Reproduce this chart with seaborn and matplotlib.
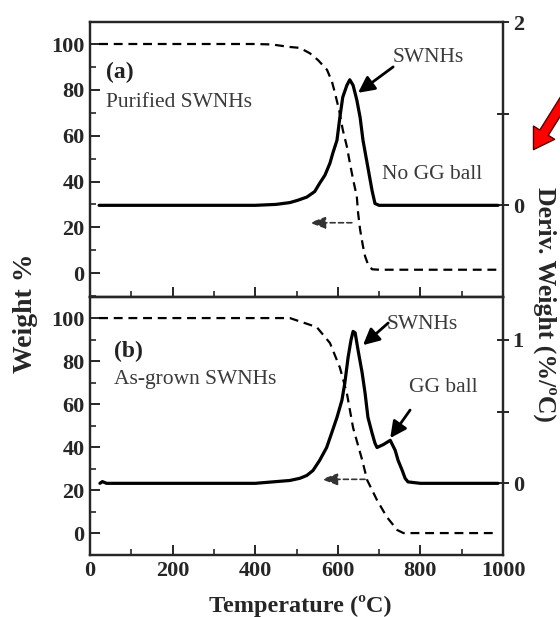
import numpy as np
import pandas as pd
import matplotlib
matplotlib.use("Agg")
import matplotlib.pyplot as plt
from matplotlib.patches import FancyArrowPatch
from matplotlib.ticker import MultipleLocator
import seaborn as sns

# ---------------- data ----------------
# (a) Purified SWNHs
temp_a_w = [22, 200, 400, 440, 484, 508, 532, 552, 574, 586, 593, 603, 612, 622, 629, 637, 646,
            649, 654, 661, 666, 673, 683, 700, 800, 900, 985]
weight_a = [100, 100, 100, 99.8, 98.7, 98.3, 96, 93, 88.7, 83.5, 78.7, 71.3, 62.6, 55.2, 48.3, 40.9, 33.5,
            26.5, 19, 11.7, 7.4, 3.9, 1.7, 1.5, 1.5, 1.5, 1.5]
temp_a_d = [22, 200, 400, 450, 484, 503, 525, 544, 556, 569, 581, 588, 598, 605, 612, 622, 629, 637,
            646, 654, 661, 671, 683, 690, 700, 800, 900, 988]
deriv_a = [0.0, 0.0, 0.0, 0.01, 0.03, 0.055, 0.09, 0.15, 0.24, 0.33, 0.46, 0.57, 0.71, 0.96, 1.18, 1.31, 1.37, 1.31,
           1.15, 0.96, 0.71, 0.46, 0.16, 0.02, 0.0, 0.0, 0.0, 0.0]

# (b) As-grown SWNHs
temp_b_w = [22, 200, 400, 450, 484, 549, 581, 605, 622, 637, 659, 671, 695, 719, 744, 759, 800, 900, 985]
weight_b = [100, 100, 100, 100, 100, 95.8, 88.4, 77, 65, 49, 34, 24.7, 15.3, 7.4, 1.4, 0, 0, 0, 0]
temp_b_d = [24, 30, 40, 200, 400, 484, 508, 525, 540, 556, 573, 585, 598, 610, 617, 625, 632, 637, 642,
            649, 659, 666, 673, 683, 690, 695, 710, 727, 739, 746, 756, 763, 770, 800, 900, 988]
deriv_b = [0.0, 0.012, 0.0, 0.0, 0.0, 0.02, 0.035, 0.055, 0.09, 0.16, 0.25, 0.35, 0.46, 0.58, 0.70, 0.88, 1.0, 1.06, 1.05,
           0.93, 0.77, 0.63, 0.46, 0.35, 0.28, 0.25, 0.27, 0.30, 0.23, 0.16, 0.09, 0.035, 0.01, 0.0, 0.0, 0.0]

x_ticks = [0, 200, 400, 600, 800, 1000]
w_ticks = [0, 20, 40, 60, 80, 100]

df_aw = pd.DataFrame({"T": temp_a_w, "W": weight_a})
df_ad = pd.DataFrame({"T": temp_a_d, "D": deriv_a})
df_bw = pd.DataFrame({"T": temp_b_w, "W": weight_b})
df_bd = pd.DataFrame({"T": temp_b_d, "D": deriv_b})

# ---------------- style ----------------
sns.set_style("ticks")
plt.rcParams["font.family"] = ["Liberation Serif", "DejaVu Serif"]
plt.rcParams["axes.linewidth"] = 1.6
plt.rcParams["xtick.direction"] = "in"
plt.rcParams["ytick.direction"] = "in"
plt.rcParams["lines.solid_joinstyle"] = "round"
plt.rcParams["lines.solid_capstyle"] = "round"

W_PX, H_PX = 560, 617
fig = plt.figure(figsize=(W_PX / 100, H_PX / 100), dpi=100)
fig.patch.set_facecolor("white")

left, right = 90 / W_PX, 503 / W_PX
top_a, mid, bot_b = 22, 297, 555
ax_a = fig.add_axes([left, 1 - mid / H_PX, right - left, (mid - top_a) / H_PX])
ax_b = fig.add_axes([left, 1 - bot_b / H_PX, right - left, (bot_b - mid) / H_PX])
ax_a2 = ax_a.twinx()
ax_b2 = ax_b.twinx()

LW_SOLID = 2.3
LW_DASH = 1.6
DASH = (4, 2.6)
FS = 16
TXT_C = "#3a3a3a"

# curves
sns.lineplot(data=df_aw, x="T", y="W", ax=ax_a, color="black", lw=LW_DASH,
             estimator=None, sort=False).lines[0].set_dashes(DASH)
sns.lineplot(data=df_ad, x="T", y="D", ax=ax_a2, color="black", lw=LW_SOLID,
             estimator=None, sort=False)
sns.lineplot(data=df_bw, x="T", y="W", ax=ax_b, color="black", lw=LW_DASH,
             estimator=None, sort=False).lines[0].set_dashes(DASH)
sns.lineplot(data=df_bd, x="T", y="D", ax=ax_b2, color="black", lw=LW_SOLID,
             estimator=None, sort=False)

# limits
ax_a.set_xlim(0, 1000)
ax_b.set_xlim(0, 1000)
ax_a.set_ylim(-10.4, 109.6)
ax_b.set_ylim(-10.2, 109.8)
ax_a2.set_ylim(-1.0, 2.0)
ax_b2.set_ylim(-0.5, 1.3)

for ax in (ax_a, ax_b):
    ax.set_xticks(x_ticks)
    ax.xaxis.set_minor_locator(MultipleLocator(100))
    ax.set_yticks(w_ticks)
    ax.yaxis.set_minor_locator(MultipleLocator(10))
    ax.tick_params(axis="both", which="major", length=7, width=1.4, labelsize=FS, pad=4)
    ax.tick_params(axis="both", which="minor", length=4, width=1.2)
    ax.tick_params(axis="x", top=False)
    ax.set_xlabel("")
    ax.set_ylabel("")
ax_a.tick_params(axis="x", labelbottom=False)
ax_b.set_xticklabels([str(t) for t in x_ticks], fontweight="bold")
ax_a.set_yticklabels([str(t) for t in w_ticks], fontweight="bold")
ax_b.set_yticklabels([str(t) for t in w_ticks], fontweight="bold")

ax_a2.set_yticks([0, 1, 2])
ax_a2.set_yticklabels(["0", "", "2"], fontweight="bold")
ax_b2.set_yticks([0, 0.5, 1])
ax_b2.set_yticklabels(["0", "", "1"], fontweight="bold")
for ax in (ax_a2, ax_b2):
    ax.tick_params(axis="y", which="major", direction="inout", length=8, width=1.4,
                   labelsize=FS, pad=3)
    ax.set_ylabel("")
    for sp in ax.spines.values():
        sp.set_linewidth(1.6)

# panel text
ax_a.text(39, 87.8, "(a)", fontsize=FS + 1, fontweight="bold", color="#222222", va="center", ha="left")
ax_a.text(39, 74.5, "Purified SWNHs", fontsize=FS - 0.5, color=TXT_C, va="center", ha="left")
ax_a.text(819, 94.3, "SWNHs", fontsize=FS - 0.5, color=TXT_C, va="center", ha="center")
ax_a.text(829, 43, "No GG ball", fontsize=FS - 0.5, color=TXT_C, va="center", ha="center")

ax_b.text(58, 84.5, "(b)", fontsize=FS + 1, fontweight="bold", color="#222222", va="center", ha="left")
ax_b.text(58, 71.5, "As-grown SWNHs", fontsize=FS - 0.5, color=TXT_C, va="center", ha="left")
ax_b.text(805, 97, "SWNHs", fontsize=FS - 0.5, color=TXT_C, va="center", ha="center")
ax_b.text(856, 67.5, "GG ball", fontsize=FS - 0.5, color=TXT_C, va="center", ha="center")

# annotation arrows (solid)
arrow_kw = dict(arrowstyle="-|>,head_length=0.7,head_width=0.35", color="black", lw=2.0,
                shrinkA=0, shrinkB=0, mutation_scale=14)
ax_a.annotate("", xy=(649, 78.7), xytext=(734, 90), arrowprops=arrow_kw)
ax_b.annotate("", xy=(661, 87.4), xytext=(722, 97.7), arrowprops=arrow_kw)
ax_b.annotate("", xy=(727, 44.2), xytext=(775, 57.2), arrowprops=arrow_kw)

# dashed arrows pointing left (weight axis)
dash_kw = dict(arrowstyle="-|>,head_length=0.8,head_width=0.3", color="#333333", lw=1.2,
               linestyle=(0, (3, 2)), shrinkA=0, shrinkB=0, mutation_scale=12)
ax_a.annotate("", xy=(532, 22), xytext=(634, 22), arrowprops=dash_kw)
ax_b.annotate("", xy=(561, 25), xytext=(666, 25), arrowprops=dash_kw)

# axis labels
fig.text(25 / W_PX, 1 - 313 / H_PX, "Weight %", rotation=90, fontsize=20,
         fontweight="bold", ha="center", va="center")
fig.text(300 / W_PX, 1 - 606 / H_PX, "Temperature (\u00baC)", fontsize=17.5,
         fontweight="bold", ha="center", va="center")
fig.text(545 / W_PX, 1 - 304 / H_PX, "Deriv. Weight (%/\u00baC)", rotation=-90, fontsize=18.5,
         fontweight="bold", ha="center", va="center")

# red arrow in the top right corner
red = FancyArrowPatch((572 / W_PX, 1 - 88 / H_PX), (532 / W_PX, 1 - 152 / H_PX),
                      transform=fig.transFigure,
                      arrowstyle="simple,head_length=1.2,head_width=1.5,tail_width=0.6",
                      mutation_scale=12, facecolor="#ff0000", edgecolor="#550000", lw=1.0)
fig.patches.append(red)

fig.savefig("out.png", dpi=100, facecolor="white")
